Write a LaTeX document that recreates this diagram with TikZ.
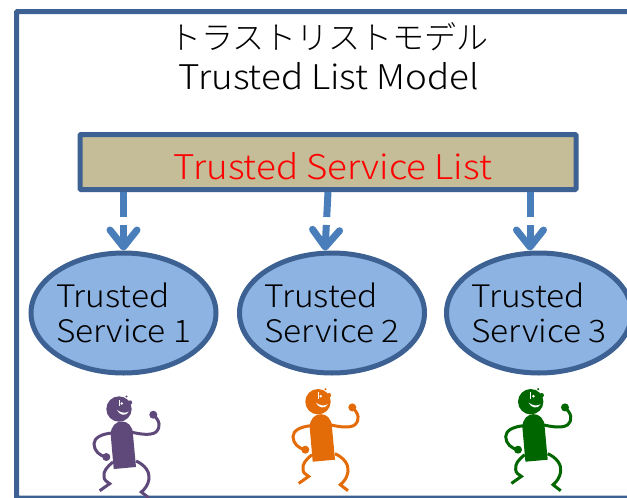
\documentclass[tikz,border=0pt]{standalone}
\usepackage{fontspec}
\setmainfont[UprightFont={* Light}]{Noto Sans CJK JP}
\newfontfamily\widelight[UprightFont={* Light},FakeStretch=1.08]{Noto Sans CJK JP}
\usetikzlibrary{shapes.geometric,arrows.meta}
\definecolor{edgeblue}{HTML}{3C6192}
\definecolor{arrowblue}{HTML}{4A7EBB}
\definecolor{serviceblue}{HTML}{8DB3E2}
\definecolor{listtan}{HTML}{C4BD97}
\definecolor{dancerpurple}{HTML}{5F497A}
\definecolor{dancerorange}{HTML}{E36C09}
\definecolor{dancergreen}{HTML}{006600}
\tikzset{
	bigtext/.style={font=\widelight\fontsize{34}{35}\selectfont},
	listbox/.style={bigtext,draw=edgeblue,fill=listtan,line width=5pt,rounded corners=1pt,minimum width=496pt,minimum height=55pt,inner sep=0pt,text=red},
	servicenode/.style={font=\widelight\fontsize{31}{35}\selectfont,ellipse,draw=edgeblue,fill=serviceblue,line width=5pt,minimum width=185pt,minimum height=120pt,inner xsep=-15pt,inner ysep=0pt,align=left},
	feedarrow/.style={draw=arrowblue,line width=7pt,dash pattern=on 25pt off 8pt,-{Straight Barb[round,length=17pt,width=27pt]}},
	dancerline/.style={line width=3pt,fill=none},
}
\newcommand{\dancer}[3]{%
	\begin{scope}[shift={(#1,#2)},y=1pt,#3]
		\fill (0,0) circle (12.7);
		\fill (-5.3,-60) -- (-8.3,-25.7) .. controls (-8.3,-8) and (14,-8) .. (14,-25.7) -- (17,-58) -- cycle;
		\draw[dancerline] (12,-23) .. controls (20,-25) and (32,-27) .. (37,-23) .. controls (42,-18) and (41,-12) .. (34.3,-5.7);
		\fill (34.3,-5.7) circle (4);
		\draw[dancerline] (-7,-24) .. controls (-18,-25) and (-25,-29) .. (-25,-35) .. controls (-25,-42) and (-19,-47) .. (-12.7,-48);
		\fill (-12.7,-48) circle (4);
		\draw[dancerline] (-6,-53) .. controls (-12,-58) and (-16,-62) .. (-15,-68) .. controls (-15,-71) and (-12,-73) .. (-9.3,-74.7) -- (-19.3,-81.7);
		\draw[dancerline] (17,-52) .. controls (26,-56) and (31,-63) .. (30,-70) .. controls (29,-76) and (26,-80) .. (22.3,-83) -- (30,-89);
		\fill (11,6.5) circle (2.2);
		\fill (7.5,12.5) circle (1.2);
		\fill[white] (-2,-1) .. controls (0,-6) and (7,-8) .. (10,-2.5) .. controls (6,-4.5) and (2,-4) .. cycle;
		\fill[white] (2.7,5.5) circle (1.4);
		\fill[white] (-0.4,3) rectangle (0.3,9.5);
	\end{scope}
}

\begin{document}
\begin{tikzpicture}[x=1pt,y=-1pt]
	
	\useasboundingbox (0,0) rectangle (627,498);
	\clip (0,0) rectangle (627,498);
	
	\draw[draw=edgeblue,line width=5pt,rounded corners=1pt] (16.5,11.5) rectangle (650,498);
	
	\node[font=\fontsize{32}{37}\selectfont] (title) at (329,37) {トラストリストモデル};
	\node[bigtext] (subtitle) at (329,76) {Trusted List Model};
	
	\node[listbox] (list) at (328,162) {\hspace*{10pt}\raisebox{-17pt}[0pt][0pt]{Trusted Service List}};
	
	\node[servicenode] (svca) at (123.5,313) {Trusted\\Service 1};
	\node[servicenode] (svcb) at (332,313) {Trusted\\Service 2};
	\node[servicenode] (svcc) at (539,313) {Trusted\\Service 3};
	
	\draw[feedarrow] (list.south -| svca.north) -- (svca.north);
	\draw[feedarrow] ([xshift=-4pt]list.south -| svcb.north) -- ([xshift=-7pt]svcb.north);
	\draw[feedarrow] ([xshift=-9pt]list.south -| svcc.north) -- ([xshift=-9pt]svcc.north);
	
	\dancer{119}{409}{dancerpurple,color=dancerpurple}
	\dancer{318}{401.7}{dancerorange,color=dancerorange}
	\dancer{530.7}{401.7}{dancergreen,color=dancergreen}
	
\end{tikzpicture}
\end{document}
